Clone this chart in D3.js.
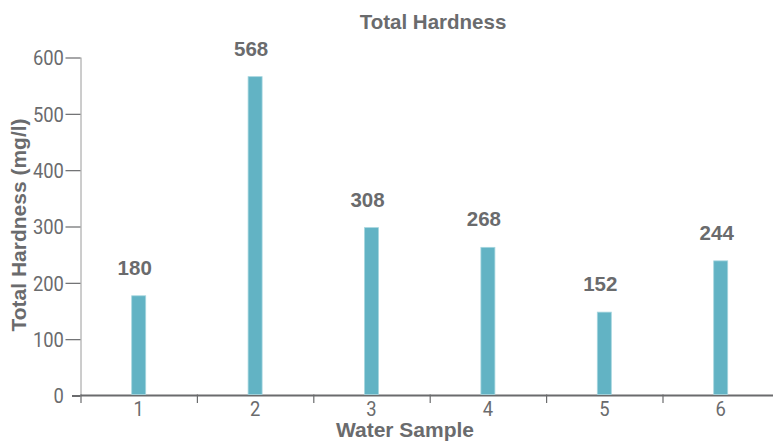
<!DOCTYPE html>
<html>
<head>
<meta charset="utf-8">
<script src="https://cdn.jsdelivr.net/npm/d3@7"></script>
<style>
  html, body { margin: 0; padding: 0; background: #fff; }
  svg { display: block; }
</style>
</head>
<body>
<svg id="chart" width="773" height="442"></svg>
<script>
// ---- data ----
const categories = ["1", "2", "3", "4", "5", "6"];
const barValues = [177, 566, 298, 263, 148, 239];          // bar heights as drawn
const labelTexts = ["180", "568", "308", "268", "152", "244"]; // printed value labels
const yTicks = [0, 100, 200, 300, 400, 500, 600];

const chartTitle = "Total Hardness";
const xTitle = "Water Sample";
const yTitle = "Total Hardness (mg/l)";

// ---- layout ----
const svg = d3.select("#chart");
const mLeft = 80.5, mTop = 57.5, mBottom = 395.5;
const step = 116.4;
const mRight = mLeft + step * categories.length;

const textColor = "#6a6b6d";
const barColor = "#62b3c4";

const x = d3.scaleBand().domain(categories).range([mLeft, mRight]).paddingInner(0).paddingOuter(0);
const y = d3.scaleLinear().domain([0, 600]).range([mBottom, mTop]);

const boldFont = "'Liberation Sans', Arial, Helvetica, sans-serif";
const tickFont = "Roboto, 'Noto Sans', sans-serif";

// y axis
const yAxisG = svg.append("g").attr("transform", `translate(${mLeft},0)`)
  .call(d3.axisLeft(y).tickValues(yTicks).tickSize(15).tickPadding(2).tickFormat(d3.format("d")));
yAxisG.select(".domain").attr("stroke", "#9a9a9a").attr("stroke-width", 1).attr("d", `M0.5,${mTop}V${mBottom}`);
yAxisG.selectAll(".tick line").attr("stroke", "#6a6b6d").attr("stroke-width", 1.2);
yAxisG.selectAll(".tick").filter(d => d === 0).select("line").attr("x2", -8.5).attr("stroke-width", 2);
yAxisG.selectAll(".tick text")
  .attr("fill", textColor)
  .attr("font-family", tickFont)
  .attr("font-size", 20)
  .attr("x", -18)
  .attr("dy", "0.36em")
  .attr("transform", "scale(0.92,1)");

// x axis
const xAxisG = svg.append("g").attr("transform", `translate(0,${mBottom})`)
  .call(d3.axisBottom(x).tickSize(0).tickPadding(0));
xAxisG.select(".domain").attr("stroke", "#6a6b6d").attr("stroke-width", 2).attr("d", `M${mLeft},0H773`);
xAxisG.selectAll(".tick text")
  .attr("fill", textColor)
  .attr("font-family", tickFont)
  .attr("font-size", 20)
  .attr("y", 21)
  .attr("dy", 0)
  .attr("transform", "scale(0.92,1)");
// boundary ticks between bands
xAxisG.selectAll(".btick")
  .data(categories)
  .enter().append("line")
  .attr("class", "btick")
  .attr("x1", d => x(d) + 0.5).attr("x2", d => x(d) + 0.5)
  .attr("y1", -1).attr("y2", 7.5)
  .attr("stroke", "#6a6b6d").attr("stroke-width", 1.2);

// bars
const barW = 14;
svg.append("g").selectAll("rect")
  .data(categories)
  .enter().append("rect")
  .attr("x", d => x(d) + x.bandwidth() / 2 - barW / 2)
  .attr("width", barW)
  .attr("y", (d, i) => y(barValues[i]))
  .attr("height", (d, i) => y(0) - y(barValues[i]) - 1)
  .attr("fill", barColor)
  .attr("stroke", "#a6d6df")
  .attr("stroke-width", 0.8);

// value labels
svg.append("g").selectAll("text")
  .data(categories)
  .enter().append("text")
  .attr("x", d => x(d) + x.bandwidth() / 2 - 4)
  .attr("y", (d, i) => y(barValues[i]) - 21)
  .attr("text-anchor", "middle")
  .attr("font-family", boldFont)
  .attr("font-weight", "bold")
  .attr("font-size", 20.5)
  .attr("fill", textColor)
  .text((d, i) => labelTexts[i]);

// titles
svg.append("text")
  .attr("x", 433).attr("y", 29)
  .attr("text-anchor", "middle")
  .attr("font-family", boldFont).attr("font-weight", "bold").attr("font-size", 20.5)
  .attr("fill", textColor)
  .text(chartTitle);

svg.append("text")
  .attr("x", 405).attr("y", 437)
  .attr("text-anchor", "middle")
  .attr("font-family", boldFont).attr("font-weight", "bold").attr("font-size", 21)
  .attr("fill", textColor)
  .text(xTitle);

svg.append("text")
  .attr("transform", "translate(26,225) rotate(-90)")
  .attr("text-anchor", "middle")
  .attr("font-family", boldFont).attr("font-weight", "bold").attr("font-size", 21)
  .attr("fill", textColor)
  .text(yTitle);
</script>
</body>
</html>
